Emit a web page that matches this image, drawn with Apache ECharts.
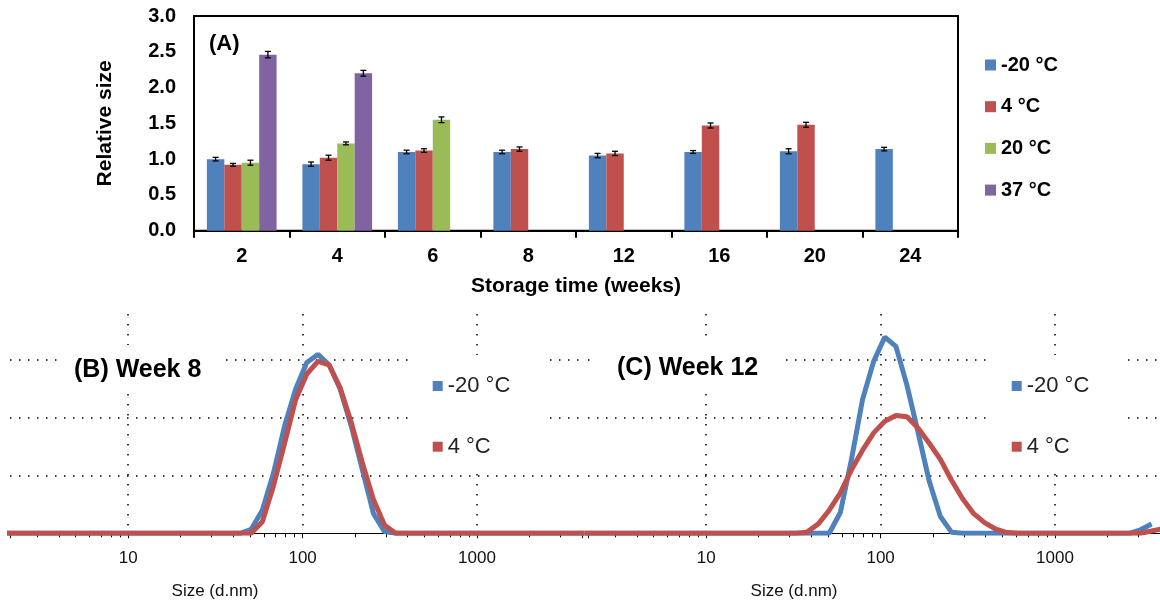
<!DOCTYPE html>
<html>
<head>
<meta charset="utf-8">
<script src="https://cdn.jsdelivr.net/npm/echarts@6/dist/echarts.min.js"></script>
<style>
html,body{margin:0;padding:0;background:#fff;}
#c{width:1160px;height:604px;}
</style>
</head>
<body>
<div id="c"></div>
<script>
// ---------- Panel A data ----------
const weeks = ['2', '4', '6', '8', '12', '16', '20', '24'];
const tempNames = ['-20 °C', '4 °C', '20 °C', '37 °C'];
const relM20 = [1.00, 0.93, 1.10, 1.10, 1.05, 1.10, 1.11, 1.14];
const relP4  = [0.92, 1.02, 1.12, 1.14, 1.08, 1.47, 1.48, null];
const relP20 = [0.95, 1.22, 1.55, null, null, null, null, null];
const relP37 = [2.46, 2.20, null, null, null, null, null, null];
const errM20 = [0.025, 0.03, 0.025, 0.025, 0.03, 0.02, 0.035, 0.025];
const errP4  = [0.02, 0.035, 0.025, 0.03, 0.03, 0.035, 0.035, null];
const errP20 = [0.035, 0.02, 0.04, null, null, null, null, null];
const errP37 = [0.045, 0.04, null, null, null, null, null, null];
const yTicksA = [0, 0.5, 1.0, 1.5, 2.0, 2.5, 3.0];

// ---------- Panels B/C data (size distribution, intensity %) ----------
const sizeBins = [2.01, 2.33, 2.69, 3.12, 3.62, 4.19, 4.85, 5.61, 6.50, 7.53, 8.72,
  10.10, 11.70, 13.54, 15.69, 18.17, 21.04, 24.36, 28.21, 32.67, 37.84, 43.82,
  50.75, 58.77, 68.06, 78.82, 91.28, 105.7, 122.4, 141.8, 164.2, 190.1, 220.2,
  255.0, 295.3, 342.0, 396.1, 458.7, 531.2, 615.1, 712.4, 825.0, 955.4, 1106,
  1281, 1484, 1718, 1990, 2305, 2669, 3091, 3580, 4145];
const wk8M20 = [0,0,0,0,0,0,0,0,0,0,0, 0,0,0,0,0,0,0,0,0,0,0,
  0.35, 2.0, 5.2, 9.3, 12.5, 14.8, 15.5, 14.6, 12.5, 9.3, 5.5,
  1.7, 0.15, 0, 0, 0, 0, 0, 0, 0, 0, 0,
  0, 0, 0, 0, 0, 0, 0, 0, 0];
const wk8P4 = [0,0,0,0,0,0,0,0,0,0,0, 0,0,0,0,0,0,0,0,0,0,0,
  0, 1.0, 4.1, 7.8, 11.6, 13.8, 14.9, 14.6, 12.6, 9.6, 6.1,
  2.9, 0.7, 0, 0, 0, 0, 0, 0, 0, 0, 0,
  0, 0, 0, 0, 0, 0, 0, 0, 0];
const wk12M20 = [0,0,0,0,0,0,0,0,0,0,0, 0,0,0,0,0,0,0,0,0,0,0,
  0, 1.8, 6.4, 11.6, 14.9, 17.0, 16.2, 12.8, 8.7, 4.5, 1.45,
  0.1, 0, 0, 0, 0, 0, 0, 0, 0, 0, 0,
  0, 0, 0, 0, 0, 0, 0.3, 0.8];
const wk12P4 = [0,0,0,0,0,0,0,0,0,0,0, 0,0,0,0,0,0,0,0,0,0.1,0.8,
  2.0, 3.5, 5.5, 7.2, 8.7, 9.7, 10.2, 10.1, 9.1, 7.8, 6.4,
  4.6, 3.0, 1.7, 0.9, 0.35, 0.06, 0, 0, 0, 0, 0,
  0, 0, 0, 0, 0, 0, 0, 0.2, 0.4];
const logTicks = [10, 100, 1000];

const BLUE = '#4F81BD', RED = '#C0504D', GREEN = '#9BBB59', PURPLE = '#8064A2';
const FONT = '"Liberation Sans", Arial, sans-serif';

const chart = echarts.init(document.getElementById('c'), null, {renderer: 'canvas'});

const relSeries = [relM20, relP4, relP20, relP37];
const errSeries = [errM20, errP4, errP20, errP37];
const colors = [BLUE, RED, GREEN, PURPLE];
const CAT_GAP = 0.27;

function errRenderer(si) {
  return function (params, api) {
    const i = api.value(0), v = api.value(1), e = api.value(2);
    const c = api.coord([i, v]);
    const bw = api.size([1, 0])[0];
    const w = bw * (1 - CAT_GAP) / 4;
    const x = c[0] - bw * (1 - CAT_GAP) / 2 + w * (si + 0.5);
    const yT = api.coord([i, v + e])[1];
    const yB = api.coord([i, v - e])[1];
    const cap = 3;
    const st = {stroke: '#000', lineWidth: 1.3};
    return {type: 'group', children: [
      {type: 'line', shape: {x1: x, y1: yT, x2: x, y2: yB}, style: st},
      {type: 'line', shape: {x1: x - cap, y1: yT, x2: x + cap, y2: yT}, style: st},
      {type: 'line', shape: {x1: x - cap, y1: yB, x2: x + cap, y2: yB}, style: st}
    ]};
  };
}

const series = [];
relSeries.forEach((arr, si) => {
  series.push({
    name: tempNames[si], type: 'bar', xAxisIndex: 0, yAxisIndex: 0,
    data: arr, barGap: '0%', barCategoryGap: (CAT_GAP * 100) + '%',
    itemStyle: {color: colors[si]}, animation: false
  });
});
relSeries.forEach((arr, si) => {
  const d = [];
  arr.forEach((v, i) => { if (v != null) d.push([i, v, errSeries[si][i]]); });
  series.push({
    name: 'err' + si, type: 'custom', xAxisIndex: 0, yAxisIndex: 0,
    data: d, renderItem: errRenderer(si), z: 4, animation: false,
    encode: {x: 0, y: 1}
  });
});
function pairs(vals) { return sizeBins.map((s, i) => [s, vals[i]]); }
function distLine(name, vals, color, gi) {
  return {name: name, type: 'line', xAxisIndex: gi, yAxisIndex: gi, data: pairs(vals),
    showSymbol: false, symbol: 'none', lineStyle: {color: color, width: 5},
    itemStyle: {color: color}, animation: false, clip: true};
}
series.push(distLine('-20 °C', wk8M20, BLUE, 1));
series.push(distLine('4 °C', wk8P4, RED, 1));
series.push(distLine('-20 °C', wk12M20, BLUE, 2));
series.push(distLine('4 °C', wk12P4, RED, 2));

function logAxis(gi) {
  return {
    type: 'log', logBase: 10, gridIndex: gi, min: 2.1, max: 4000,
    axisLine: {show: true, onZero: false, lineStyle: {color: '#000', width: 1}},
    axisTick: {show: true, length: 5, lineStyle: {color: '#000', width: 1}},
    minorTick: {show: true, splitNumber: 9, length: 4, lineStyle: {color: '#000', width: 1}},
    axisLabel: {show: true, margin: 17, fontSize: 17, color: '#111', fontFamily: FONT,
      showMinLabel: false, showMaxLabel: false,
      formatter: function (v) {
        const r = Math.round(v);
        return logTicks.indexOf(r) >= 0 ? String(r) : '';
      }},
    splitLine: {show: true, showMinLine: false, showMaxLine: false,
      lineStyle: {color: '#000', width: 1.5, type: [1.5, 8.5]}}
  };
}
function intensityAxis(gi) {
  return {
    type: 'value', gridIndex: gi, min: 0, max: 19, interval: 5,
    axisLine: {show: false}, axisTick: {show: false}, axisLabel: {show: false},
    splitLine: {show: true, showMinLine: false, showMaxLine: false,
      lineStyle: {color: '#000', width: 1.5, type: [1.5, 7.5]}}
  };
}

const option = {
  backgroundColor: '#fff',
  animation: false,
  textStyle: {fontFamily: FONT},
  grid: [
    {left: 194, top: 16, width: 764, height: 214.7, show: true, borderColor: '#000', borderWidth: 2, backgroundColor: 'transparent'},
    {left: 10, top: 314, width: 572, height: 219.3},
    {left: 588, top: 314, width: 572, height: 219.3}
  ],
  xAxis: [
    {type: 'category', gridIndex: 0, data: weeks, boundaryGap: true,
      name: 'Storage time (weeks)', nameLocation: 'middle', nameGap: 45,
      nameTextStyle: {fontSize: 21, fontWeight: 'bold', color: '#000', fontFamily: FONT},
      axisLine: {show: true, lineStyle: {color: '#000', width: 2}},
      axisTick: {show: true, length: 7, alignWithLabel: false, lineStyle: {color: '#000', width: 2}},
      axisLabel: {fontSize: 20, fontWeight: 'bold', color: '#000', margin: 16, fontFamily: FONT},
      splitLine: {show: false}},
    logAxis(1), logAxis(2)
  ],
  yAxis: [
    {type: 'value', gridIndex: 0, min: 0, max: 3, interval: 0.5,
      name: 'Relative size', nameLocation: 'middle', nameGap: 78, nameRotate: 90,
      nameTextStyle: {fontSize: 21, fontWeight: 'bold', color: '#000', fontFamily: FONT},
      axisLine: {show: true, lineStyle: {color: '#000', width: 2}},
      axisTick: {show: false},
      axisLabel: {fontSize: 20, fontWeight: 'bold', color: '#000', margin: 18, fontFamily: FONT,
        formatter: function (v) { return yTicksA.indexOf(v) >= 0 ? v.toFixed(1) : ''; }},
      splitLine: {show: false}},
    intensityAxis(1), intensityAxis(2)
  ],
  title: [
    {text: '(A)', left: 209, top: 31, padding: 0,
      textStyle: {fontSize: 22, fontWeight: 'bold', color: '#000', lineHeight: 26, fontFamily: FONT}},
    {text: '(B) Week 8', left: 57, top: 345, padding: [10, 18, 8, 17], backgroundColor: '#fff',
      textStyle: {fontSize: 25, fontWeight: 'bold', color: '#000', lineHeight: 30, fontFamily: FONT}},
    {text: '(C) Week 12', left: 595, top: 343, padding: [10, 21, 8, 22], backgroundColor: '#fff',
      textStyle: {fontSize: 25, fontWeight: 'bold', color: '#000', lineHeight: 30, fontFamily: FONT}},
    {text: 'Size (d.nm)', left: 215, top: 581, padding: 0, textAlign: 'center',
      textStyle: {fontSize: 17, fontWeight: 'normal', color: '#111', lineHeight: 20, fontFamily: FONT}},
    {text: 'Size (d.nm)', left: 794, top: 581, padding: 0, textAlign: 'center',
      textStyle: {fontSize: 17, fontWeight: 'normal', color: '#111', lineHeight: 20, fontFamily: FONT}}
  ],
  legend: [
    {data: tempNames, orient: 'vertical', left: 985, top: 54, padding: 0,
      icon: 'rect', itemWidth: 11, itemHeight: 11, itemGap: 19.7, selectedMode: false,
      textStyle: {fontSize: 20, fontWeight: 'bold', color: '#000', lineHeight: 22, fontFamily: FONT}},
    {data: ['-20 °C', '4 °C'], orient: 'vertical', left: 410, top: 355, padding: [19, 35, 13, 22.7],
      backgroundColor: '#fff', icon: 'rect', itemWidth: 10, itemHeight: 10, itemGap: 36.7, selectedMode: false,
      textStyle: {fontSize: 22, color: '#222', lineHeight: 24, fontFamily: FONT}},
    {data: ['-20 °C', '4 °C'], orient: 'vertical', left: 988, top: 355, padding: [19, 35, 13, 23.7],
      backgroundColor: '#fff', icon: 'rect', itemWidth: 10, itemHeight: 10, itemGap: 36.7, selectedMode: false,
      textStyle: {fontSize: 22, color: '#222', lineHeight: 24, fontFamily: FONT}}
  ],
  series: series
};
chart.setOption(option);
</script>
</body>
</html>
